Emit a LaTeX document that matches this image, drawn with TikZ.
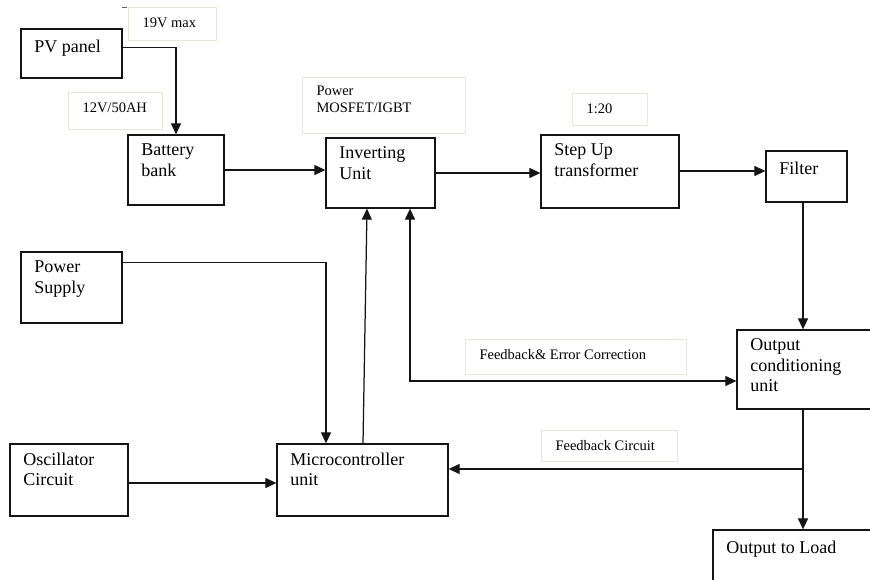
\documentclass[tikz,border=0pt]{standalone}
\usepackage{fontspec}
\setmainfont{Liberation Serif}
\usetikzlibrary{arrows.meta}
\definecolor{tagedge}{RGB}{232,230,214}
\definecolor{ink}{RGB}{20,20,20}
\newcommand\blockfont{\fontsize{18}{20.5}\selectfont}
\newcommand\tagfont{\fontsize{14.5}{17}\selectfont}
\tikzset{
  blockbox/.style={draw=ink, line width=1.3pt, rectangle, inner sep=0pt},
  blocktxt/.style={anchor=north west, inner sep=0pt, outer sep=0pt, align=left,
    font=\blockfont, xshift=14pt, yshift=-9.65pt, execute at begin node=\strut},
  tagbox/.style={draw=tagedge, line width=1pt, rectangle, inner sep=0pt},
  tagtxt/.style={anchor=north west, inner sep=0pt, outer sep=0pt, align=left,
    font=\tagfont, xshift=15pt, yshift=-8.6pt, execute at begin node=\strut},
  link/.style={draw=ink, line width=1.25pt},
  arr/.style={link, -{Triangle[length=11pt,width=10pt]}},
  biarr/.style={link, {Triangle[length=11pt,width=10pt]}-{Triangle[length=11pt,width=10pt]}},
}
% block given by its corners (x1,y1) and (x2,y2), text at its top left
\newcommand\blk[6]{\node[blockbox, minimum width={#4-#2}, minimum height={#5-#3},
  label={[blocktxt]north west:#6}] (#1) at ({(#2+#4)/2},{(#3+#5)/2}) {};}
% thin annotation box
\newcommand\tagnote[6]{\node[tagbox, minimum width={#4-#2}, minimum height={#5-#3},
  label={[tagtxt]north west:#6}] (#1) at ({(#2+#4)/2},{(#3+#5)/2}) {};}

\begin{document}
\begin{tikzpicture}[x=1pt,y=-1pt]
\useasboundingbox (0,0) rectangle (870,580);
\clip (0,0) rectangle (870,580);

% power path
\blk{pv}{21}{29}{122}{78}{PV panel}
\blk{bat}{128}{135}{224}{205}{Battery\\bank}
\blk{inv}{326}{138}{435}{208}{Inverting\\Unit}
\blk{step}{541}{135}{679}{208}{Step Up\\transformer}
\blk{filt}{766}{151}{847}{202}{Filter}
\blk{occ}{737}{330}{892}{409}{Output\\conditioning\\unit}
\blk{load}{713}{530}{892}{600}{Output to Load}

% control path
\blk{ps}{21}{252}{122}{323}{Power\\Supply}
\blk{osc}{10}{444}{128}{516}{Oscillator\\Circuit}
\blk{mcu}{277}{444}{448}{516}{Microcontroller\\unit}

% annotations
\tagnote{vmax}{128}{8}{216}{41}{19V max}
\tagnote{cap}{68}{93}{162}{130}{12V/50AH}
\tagnote{sw}{302}{78}{465}{134}{Power\\MOSFET/IGBT}
\tagnote{ratio}{572}{94}{647}{126}{{1:20}}
\tagnote{fbe}{465}{339}{686}{374}{Feedback\& Error Correction}
\tagnote{fbc}{541}{430}{677}{461}{Feedback Circuit}
\draw[draw=ink!70, line width=0.8pt] (122,7) -- (127,7);

% connectors
\coordinate (tap) at (803,469);
\draw[arr] ([yshift=6pt]pv.east) -| (bat.north);
\draw[arr] (bat.east) -- (bat.east -| inv.west);
\draw[arr] (inv.east) -- (inv.east -| step.west);
\draw[arr] ([yshift=0.5pt]step.east) -- ([yshift=0.5pt]step.east -| filt.west);
\draw[arr] (filt.south -| tap) -- (tap |- occ.north);
\draw[link] (occ.south -| tap) -- (tap);
\draw[arr] (tap) -- (tap |- load.north);
\draw[arr] (tap) -- (tap -| mcu.east);
\draw[arr] ([yshift=-11pt]ps.north east) -| ([xshift=-36.5pt]mcu.north);
\draw[arr] ([xshift=0.5pt]mcu.north) -- ([xshift=-13.5pt]inv.south);
\draw[biarr] ([xshift=29.5pt]inv.south) |- ([yshift=-11.5pt]occ.west);
\draw[arr] ([yshift=-3pt]osc.east) -- ([yshift=-3pt]mcu.west);
\end{tikzpicture}
\end{document}
